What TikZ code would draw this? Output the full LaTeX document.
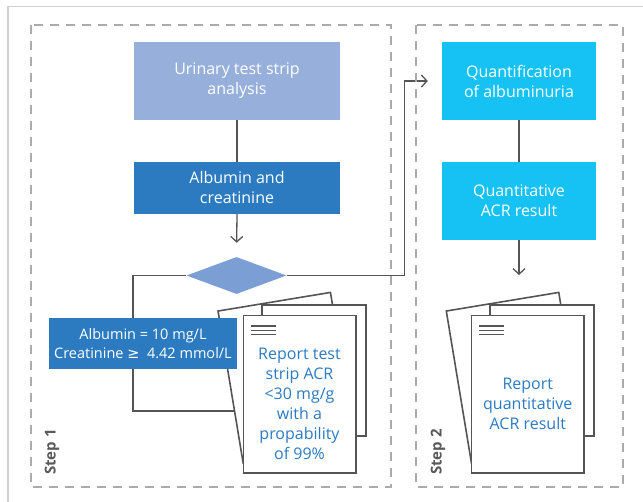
\documentclass[tikz,border=0pt]{standalone}
\usepackage{fontspec}
\setmainfont{Open Sans}
\newfontfamily\symf{DejaVu Sans}
\usetikzlibrary{shapes.geometric,arrows.meta,calc}
\pgfdeclarelayer{bg}
\pgfsetlayers{bg,main}
\definecolor{lav}{HTML}{96AFDB}
\definecolor{mblue}{HTML}{2C7BC1}
\definecolor{dia}{HTML}{7B9ED4}
\definecolor{cyanb}{HTML}{16C1F3}
\definecolor{txtblue}{HTML}{2B7BC4}
\definecolor{lgray}{HTML}{555555}
\definecolor{dgray}{HTML}{ABABAB}
\definecolor{fgray}{HTML}{D0D0D0}
\definecolor{sgray}{HTML}{5A5A5A}
\begin{document}
\begin{tikzpicture}[x=1pt,y=-1pt,
  box/.style={rectangle, inner sep=0, text=white, align=center, font=\fontsize{16}{20}\selectfont, execute at begin node={\rule{0pt}{16.5pt}}},
  conn/.style={draw=lgray, line width=1.3pt},
  arr/.style={conn, -{Straight Barb[length=5.5pt,width=12pt]}},
  stepframe/.style={draw=dgray, line width=1.3pt, dash pattern=on 9pt off 7pt},
  page/.style={draw=lgray, fill=white, line width=1.6pt, rectangle, inner sep=0},
  doctext/.style={text=txtblue, align=center, font=\fontsize{16}{20}\selectfont, execute at begin node={\rule{0pt}{16pt}}},
  steplabel/.style={rotate=90, text=sgray, font=\bfseries\fontsize{15}{17}\selectfont},
]
\useasboundingbox (0,0) rectangle (643,502);

\draw[stepframe] (31,25) rectangle (391,487);
\draw[stepframe] (416,25) rectangle (623,487);

\node[box, fill=lav, minimum width=206, minimum height=78] (u) at (237,81) {Urinary test strip\\analysis};
\node[box, fill=mblue, minimum width=206, minimum height=52] (ac) at (237,188) {Albumin and\\creatinine};
\node[diamond, fill=dia, minimum width=100, minimum height=37, aspect=2.7, inner sep=0] (d) at (236.5,275.5) {};
\node[box, fill=cyanb, minimum width=154, minimum height=78] (q) at (519,81) {Quantification\\of albuminuria};
\node[box, fill=cyanb, minimum width=154, minimum height=78] (qr) at (519,201) {Quantitative\\ACR result};

% step 1 documents
\node[page, minimum width=114, minimum height=154, rotate=9.4] (b1) at (286.8,377.7) {};
\node[page, minimum width=104, minimum height=131] (m1) at (313.9,370.5) {};
\node[page, minimum width=112.4, minimum height=157.6] (f1) at (299.5,394.5) {};
\foreach \dy in {11,15.4,19.8}
  \draw[lgray, line width=1.3pt] ($(f1.north west)+(8.4,\dy)$) -- ++(25,0);
\node[doctext] (t1) at ($(f1.center)+(0,9.5)$) {Report test\\strip ACR\\<30 mg/g\\with a\\propability\\of 99\%};

% step 2 documents
\node[page, minimum width=114, minimum height=154, rotate=9.4] (b2) at (515.1,377.7) {};
\node[page, minimum width=104, minimum height=131] (m2) at (542.2,370.5) {};
\node[page, minimum width=112.4, minimum height=157.6] (f2) at (527.8,394.5) {};
\foreach \dy in {11,15.4,19.8}
  \draw[lgray, line width=1.3pt] ($(f2.north west)+(8.4,\dy)$) -- ++(25,0);
\node[doctext] (t2) at ($(f2.center)+(0,9.5)$) {Report\\quantitative\\ACR result};

\node[box, fill=mblue, minimum width=188, minimum height=51, font=\fontsize{14.5}{19}\selectfont, execute at begin node={\rule{0pt}{14.5pt}}] (a10) at (143,343.5) {Albumin = 10 mg/L\\Creatinine {\symf ≥}\ \ 4.42 mmol/L};

\node[steplabel] (s1) at (52,452) {Step 1};
\node[steplabel] (s2) at (438,452) {Step 2};

\begin{pgfonlayer}{bg}
\fill[white] (0,0) rectangle (643,502);
\draw[fgray, line width=1.2pt] (643,6.5) -- (8,6.5) -- (8,502);
\draw[conn] (u.south) -- (ac.north);
\draw[arr, shorten >=14pt] (ac.south) -- (d.north);
\coordinate (c1) at (133,411);
\draw[conn] (d.west) -| (c1) -- (c1 -| f1.west);
\coordinate (c2) at (404.5,0);
\draw[arr, shorten >=14pt] (d.east) -| (c2 |- q.west) -- (q.west);
\draw[conn] (q.south) -- (qr.north);
\coordinate (c3) at (519,275);
\draw[arr] (qr.south) -- (c3);
\end{pgfonlayer}
\end{tikzpicture}
\end{document}
